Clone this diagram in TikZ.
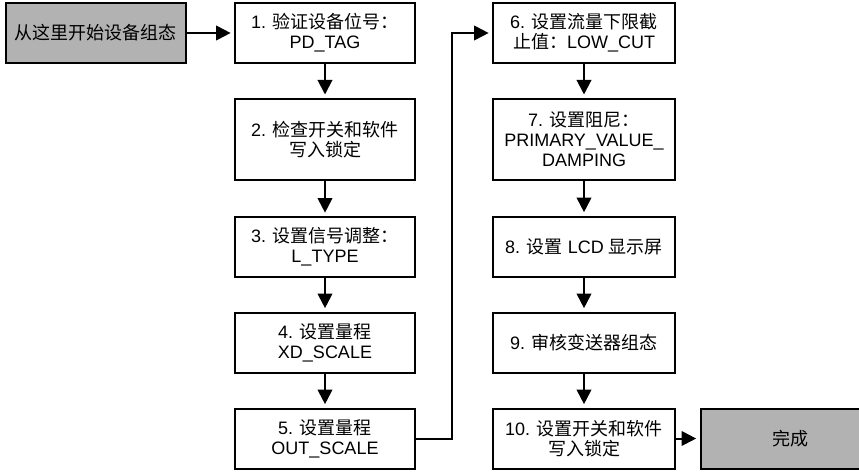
\documentclass[tikz,border=0pt]{standalone}
\usepackage{fontspec}
\setmainfont{Liberation Sans}
\newfontfamily\cjk{Noto Sans CJK SC}
\newcommand{\zh}[1]{{\cjk #1}}
\usetikzlibrary{arrows.meta,positioning}
\tikzset{every picture/.style={line width=1.5pt}}

\begin{document}
\begin{tikzpicture}[x=0.75pt,y=-0.75pt,
    box/.style={draw,align=center,minimum width=135pt,minimum height=45pt,
      inner sep=2pt,font=\fontsize{13.5}{15}\selectfont},
    tall/.style={box,minimum height=61pt},
    grey/.style={box,fill=gray!60},
    arr/.style={-{Triangle[length=11pt,width=11pt]},shorten >=2.5pt}]
    \useasboundingbox (0,0) rectangle (859,472);

    % Start
    \node[grey] (start) at (95.5,33) {\zh{从这里开始设备组态}};

    % Left column
    \node[box] (b1) at (325,33) {1. \zh{验证设备位号：}\\PD\_TAG};
    \node[tall] (b2) at (325,139.5) {2. \zh{检查开关和软件}\\\zh{写入锁定}};
    \node[box] (b3) at (325,247) {3. \zh{设置信号调整：}\\L\_TYPE};
    \node[box] (b4) at (325,342.5) {4. \zh{设置量程}\\XD\_SCALE};
    \node[box] (b5) at (325,438.5) {5. \zh{设置量程}\\OUT\_SCALE};

    % Right column
    \node[box,minimum width=136.5pt] (b6) at (584,33) {6. \zh{设置流量下限截}\\\zh{止值：}LOW\_CUT};
    \node[tall,minimum width=136.5pt] (b7) at (584,139.5) {7. \zh{设置阻尼：}\\PRIMARY\_VALUE\_\\DAMPING};
    \node[box,minimum width=136.5pt] (b8) at (584,246.5) {8. \zh{设置} LCD \zh{显示屏}};
    \node[box,minimum width=136.5pt] (b9) at (584,342.5) {9. \zh{审核变送器组态}};
    \node[box,minimum width=136.5pt] (b10) at (584,438.5) {10. \zh{设置开关和软件}\\\zh{写入锁定}};

    % Finish
    \node[grey] (done) at (790.5,438.5) {\zh{完成}};

    % Connectors
    \draw[arr] (start) -- (b1);
    \draw[arr] (b1) -- (b2);
    \draw[arr] (b2) -- (b3);
    \draw[arr] (b3) -- (b4);
    \draw[arr] (b4) -- (b5);
    \draw[arr] (b5.east) -- ++(36,0) |- (b6.west);
    \draw[arr] (b6) -- (b7);
    \draw[arr] (b7) -- (b8);
    \draw[arr] (b8) -- (b9);
    \draw[arr] (b9) -- (b10);
    \draw[arr] (b10) -- (done);
\end{tikzpicture}
\end{document}
